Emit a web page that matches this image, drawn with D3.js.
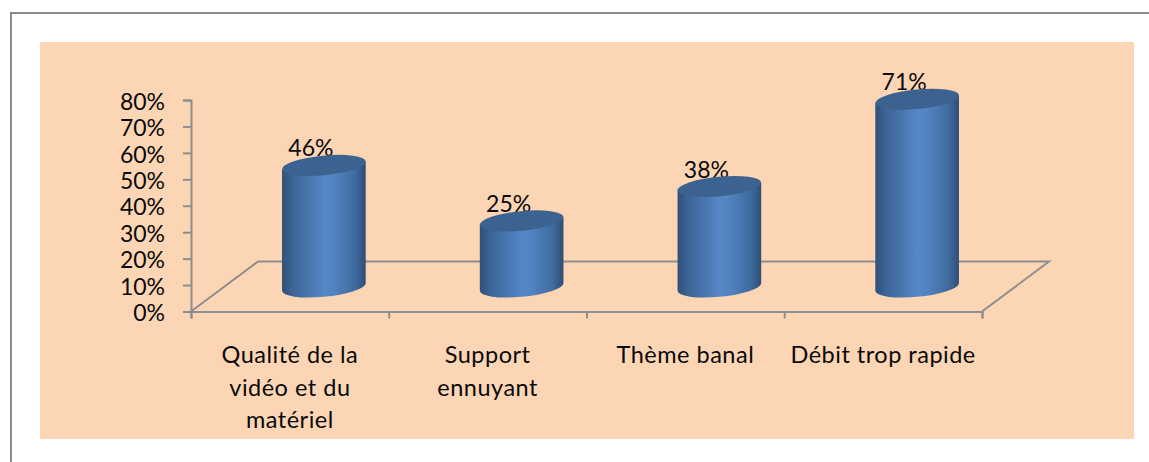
<!DOCTYPE html>
<html><head><meta charset="utf-8">
<style>html,body{margin:0;padding:0;background:#fff}svg{display:block}text{font-family:Lato,"Noto Sans",sans-serif;fill:#0a0a0a}</style>
<script src="https://cdn.jsdelivr.net/npm/d3@7/dist/d3.min.js"></script>
</head><body><script>
const categories = ["Qualité de la vidéo et du matériel", "Support ennuyant", "Thème banal", "Débit trop rapide"];
const categoryLines = [["Qualité de la","vidéo et du","matériel"],["Support","ennuyant"],["Thème banal"],["Débit trop rapide"]];
const values = [46, 25, 38, 71];
const yTicks = [0,10,20,30,40,50,60,70,80];
const W=1149,H=462;
const svg=d3.select("body").append("svg").attr("width",W).attr("height",H);
const defs=svg.append("defs");
const grad=defs.append("linearGradient").attr("id","cyl");
[[0,"#2f4f78"],[0.12,"#3c6496"],[0.5,"#5586c6"],[0.62,"#5283c1"],[0.88,"#3f6a9e"],[1,"#2e4d74"]].forEach(([o,c])=>grad.append("stop").attr("offset",o).attr("stop-color",c));

svg.append("path").attr("d","M11,462V13H1149").attr("fill","none").attr("stroke","#8c8c8c").attr("stroke-width",2);
svg.append("rect").attr("x",40).attr("y",42).attr("width",1094).attr("height",397).attr("fill","#fcd5b5");

const y=d3.scaleLinear().domain([0,80]).range([311.5,100]);
const x=d3.scaleBand().domain(categories).range([191,982]);
const depthX=67, depthY=50, gray="#8e8e8e";

const floorL=x.range()[0], floorR=x.range()[1], floorY=y(0);
svg.append("path").attr("d",`M${floorL},${floorY}L${floorL+depthX},${floorY-depthY}H${floorR+depthX}L${floorR},${floorY}`)
  .attr("fill","none").attr("stroke",gray).attr("stroke-width",2);

const yAxis=svg.append("g").attr("transform",`translate(${floorL},0)`)
  .call(d3.axisLeft(y).tickValues(yTicks).tickFormat(d=>d+"%").tickSize(8).tickSizeOuter(8).tickPadding(18));
const xAxis=svg.append("g").attr("transform",`translate(0,${floorY})`)
  .call(d3.axisBottom(d3.scaleLinear().domain([0,categories.length]).range(x.range())).ticks(categories.length).tickFormat("").tickSize(7));
[yAxis,xAxis].forEach(g=>{g.selectAll("path,line").attr("stroke",gray).attr("stroke-width",2);});
yAxis.selectAll("text").attr("font-size",23).attr("dy","0.4em").style("font-family","Lato").attr("fill","#0a0a0a");

// cylinder geometry: a rotated ellipse and its left/right extremes
const a=42, b=9.8, rot=-5.5, th=rot*Math.PI/180;
const ex=Math.sqrt(a*a*Math.cos(th)**2+b*b*Math.sin(th)**2);
const ey=(a*a-b*b)*Math.sin(th)*Math.cos(th)/ex;
const baseY=287, barShift=34;
const offset=d=>y(0)-y(d);
const rows=categories.map((c,i)=>({c,v:values[i],lines:categoryLines[i]}));
const g=svg.selectAll(".bar").data(rows).join("g").attr("class","bar")
  .attr("transform",d=>`translate(${x(d.c)+x.bandwidth()/2},0)`);

g.append("text").attr("x",barShift-13).attr("y",d=>baseY-offset(d.v)-9).attr("text-anchor","middle").attr("font-size",23).text(d=>d.v+"%");
g.append("path").attr("fill","url(#cyl)")
  .attr("d",d=>{const t=baseY-offset(d.v),X=barShift;
    return `M${X-ex},${t-ey}V${baseY-ey}A${a},${b} ${rot} 0 0 ${X+ex},${baseY+ey}V${t+ey}Z`;});
g.append("ellipse").attr("cx",barShift).attr("cy",d=>baseY-offset(d.v)).attr("rx",a).attr("ry",b)
  .attr("transform",d=>`rotate(${rot} ${barShift} ${baseY-offset(d.v)})`).attr("fill","#3c628f");
g.append("text").attr("text-anchor","middle").attr("font-size",23.5).attr("letter-spacing",0.5)
  .each(function(d){d3.select(this).selectAll("tspan").data(d.lines).join("tspan").attr("x",0).attr("y",(l,i)=>363+i*32.5).text(l=>l);});
</script></body></html>
